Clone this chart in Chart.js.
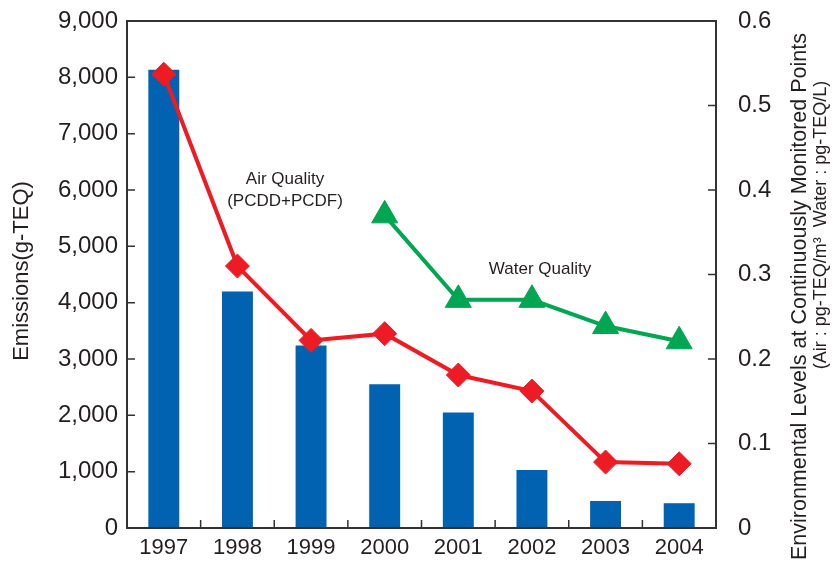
<!DOCTYPE html>
<html>
<head>
<meta charset="utf-8">
<script src="https://cdn.jsdelivr.net/npm/chart.js@4.4.1/dist/chart.umd.min.js"></script>
<style>
  html, body { margin: 0; padding: 0; background: #fff; }
  canvas { display: block; }
</style>
</head>
<body>
<canvas id="myChart" width="834" height="562"></canvas>
<script>
// Years on the x axis
const years = ['1997', '1998', '1999', '2000', '2001', '2002', '2003', '2004'];

// Emissions (g-TEQ), left axis
const emissions = [8135, 4200, 3240, 2550, 2050, 1030, 480, 440];

// Environmental levels, right axis
const airQuality = [0.537, 0.310, 0.222, 0.230, 0.181, 0.162, 0.078, 0.076];
const waterQuality = [null, null, null, 0.370, 0.270, 0.270, 0.239, 0.221];

// Text labels inside the plot (x = category index, y = right axis value)
const notes = [
  { text: 'Air Quality', x: 1.646, y: 0.413 },
  { text: '(PCDD+PCDF)', x: 1.646, y: 0.387 },
  { text: 'Water Quality', x: 5.11, y: 0.306 }
];

const FONT = "'Liberation Sans', Arial, Helvetica, sans-serif";
const INK = '#231f20';

// no extra room for half labels: the plot box is set by layout padding and afterFit
function noPad(s) {
  s.paddingTop = 0;
  s.paddingBottom = 0;
  s.paddingLeft = 0;
  s.paddingRight = 0;
}

const framePlugin = {
  id: 'frame',
  afterDraw(chart) {
    const { ctx, chartArea: a, scales: { x, y, y1 } } = chart;
    ctx.save();

    // box round the plot
    ctx.strokeStyle = '#333333';
    ctx.lineWidth = 2;
    ctx.strokeRect(a.left, a.top, a.right - a.left, a.bottom - a.top);

    // inward tick marks
    ctx.lineWidth = 1.5;
    ctx.beginPath();
    y.ticks.forEach(t => {
      const py = y.getPixelForValue(t.value);
      ctx.moveTo(a.left, py);
      ctx.lineTo(a.left + 8, py);
    });
    y1.ticks.forEach(t => {
      const py = y1.getPixelForValue(t.value);
      ctx.moveTo(a.right, py);
      ctx.lineTo(a.right - 8, py);
    });
    for (let i = 1; i < years.length; i++) {
      const px = (x.getPixelForValue(i - 1) + x.getPixelForValue(i)) / 2;
      ctx.moveTo(px, a.bottom);
      ctx.lineTo(px, a.bottom - 8);
    }
    ctx.stroke();

    // notes in the plot
    ctx.fillStyle = INK;
    ctx.font = '17px ' + FONT;
    ctx.textAlign = 'center';
    ctx.textBaseline = 'middle';
    notes.forEach(n => {
      ctx.fillText(n.text, x.getPixelForValue(n.x), y1.getPixelForValue(n.y));
    });

    // left axis title
    ctx.save();
    ctx.translate(22, 271);
    ctx.rotate(-Math.PI / 2);
    ctx.font = '22px ' + FONT;
    ctx.fillText('Emissions(g-TEQ)', 0, 0);
    ctx.restore();

    // right axis title, two lines
    ctx.save();
    ctx.translate(800, 33);
    ctx.rotate(-Math.PI / 2);
    ctx.font = '21.5px ' + FONT;
    ctx.textAlign = 'right';
    ctx.fillText('Environmental Levels at Continuously Monitored Points', 0, 0);
    ctx.restore();

    ctx.save();
    ctx.translate(821, 225);
    ctx.rotate(-Math.PI / 2);
    ctx.font = '18px ' + FONT;
    ctx.fillText('(Air : pg-TEQ/m\u00B3  Water : pg-TEQ/L)', 0, 0);
    ctx.restore();

    ctx.restore();
  }
};

const data = {
  labels: years,
  datasets: [
    {
      type: 'line',
      label: 'Air Quality',
      data: airQuality,
      yAxisID: 'y1',
      borderColor: '#ed1c24',
      backgroundColor: '#ed1c24',
      borderWidth: 4,
      pointStyle: 'rectRot',
      pointRadius: 12,
      pointBorderWidth: 1,
      tension: 0,
      order: 1
    },
    {
      type: 'line',
      label: 'Water Quality',
      data: waterQuality,
      yAxisID: 'y1',
      borderColor: '#00a651',
      backgroundColor: '#00a651',
      borderWidth: 4,
      pointStyle: 'triangle',
      pointRadius: 15,
      pointBorderWidth: 1,
      tension: 0,
      order: 2
    },
    {
      type: 'bar',
      label: 'Emissions',
      data: emissions,
      yAxisID: 'y',
      backgroundColor: '#0062b1',
      categoryPercentage: 1,
      barPercentage: 0.42,
      order: 3
    }
  ]
};

const config = {
  type: 'bar',
  data: data,
  plugins: [framePlugin],
  options: {
    responsive: false,
    animation: false,
    devicePixelRatio: 1,
    layout: { padding: { top: 21, left: 0, right: 0, bottom: 0 } },
    plugins: {
      legend: { display: false },
      tooltip: { enabled: false }
    },
    scales: {
      x: {
        offset: true,
        grid: { display: false, drawTicks: false },
        border: { display: false },
        ticks: {
          color: INK,
          font: { family: FONT, size: 22 },
          padding: 7,
          maxRotation: 0,
          autoSkip: false
        },
        afterFit: s => { noPad(s); s.height = 34; }
      },
      y: {
        position: 'left',
        min: 0,
        max: 9000,
        grid: { display: false, drawTicks: false },
        border: { display: false },
        ticks: {
          stepSize: 1000,
          color: INK,
          font: { family: FONT, size: 24 },
          padding: 9,
          callback: v => v.toLocaleString('en-US')
        },
        afterFit: s => { noPad(s); s.width = 127; }
      },
      y1: {
        position: 'right',
        min: 0,
        max: 0.6,
        grid: { display: false, drawTicks: false },
        border: { display: false },
        ticks: {
          stepSize: 0.1,
          color: INK,
          font: { family: FONT, size: 24 },
          padding: 22,
          callback: v => String(Math.round(v * 10) / 10)
        },
        afterFit: s => { noPad(s); s.width = 118; }
      }
    }
  }
};

const ctx = document.getElementById('myChart').getContext('2d');
new Chart(ctx, config);
</script>
</body>
</html>
